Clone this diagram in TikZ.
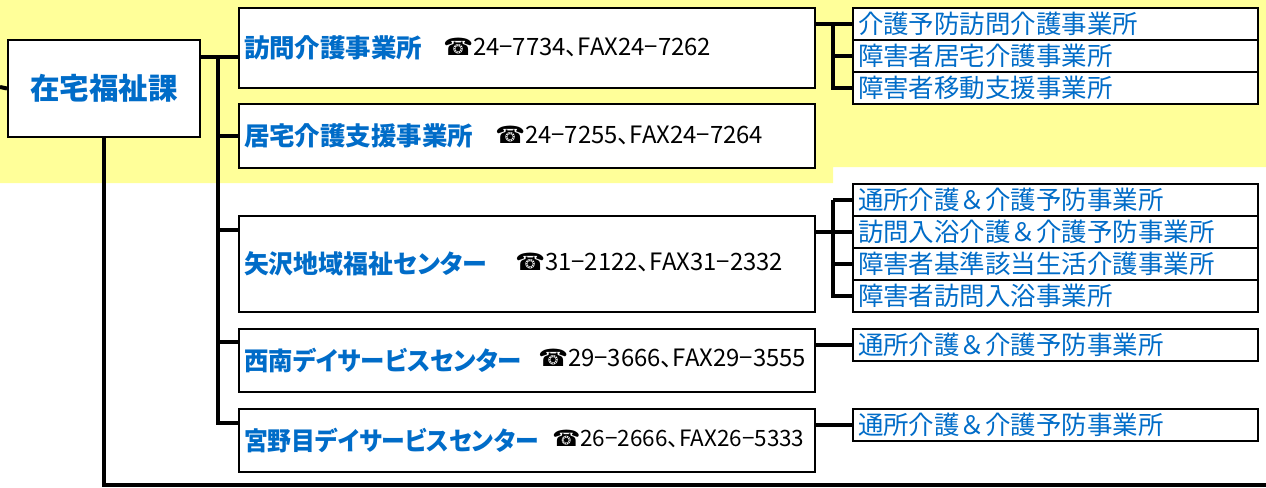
\documentclass[tikz,border=0pt]{standalone}
\usepackage{graphicx}
\usepackage{fontspec}
\setmainfont{Noto Sans CJK JP}
\newfontfamily\namefont{Noto Sans CJK JP}[RawFeature=+palt]
\newfontfamily\telfont{DejaVu Sans}
\newcommand{\narrowtxt}[2]{\scalebox{#1}[1]{#2}}

\definecolor{ttlblue}{RGB}{0,108,200}
\definecolor{bgyellow}{RGB}{255,255,153}

\tikzset{
	hbox/.style={draw=black, line width=0.04cm, fill=white, anchor=north west, inner xsep=0.1cm, inner ysep=0pt, text width=11.32cm, align=left, text=ttlblue, font=\namefont\fontsize{14.5}{17}\selectfont\bfseries},
	sbox/.style={draw=black, line width=0.04cm, fill=white, anchor=north west, inner xsep=0.1cm, inner ysep=0pt, text width=7.9cm, minimum height=0.64cm, align=left, text=ttlblue, font=\fontsize{14.5}{17}\selectfont},
	tel/.style={anchor=west, inner sep=0pt, font=\namefont\fontsize{13.6}{16}\selectfont},
	conn/.style={line width=0.08cm},
}

\begin{document}
\begin{tikzpicture}[x=0.02cm, y=-0.02cm]
	\useasboundingbox (0,0) rectangle (1266,487);
	% 上部的黄色底色
	\fill[bgyellow] (0,0) -- (1266,0) -- (1266,167) -- (833,167) -- (833,183) -- (0,183) -- cycle;
	
	% 左边的课
	\node[draw=black, line width=0.04cm, fill=white, anchor=north west, minimum width=3.84cm, minimum height=1.94cm, text=ttlblue, font=\fontsize{16.8}{20}\selectfont\bfseries] (zaitaku) at (7,39) {在宅福祉課};
	
	% 中间的五个事业所,电话另外标注
	\node[hbox, minimum height=1.6cm] (houmon) at (238,7) {訪問介護事業所};
	\node[hbox, minimum height=1.28cm] (kyotaku) at (238,103) {居宅介護支援事業所};
	\node[hbox, minimum height=1.92cm] (yazawa) at (238,215) {\narrowtxt{0.98}{矢沢地域福祉センター}};
	\node[hbox, minimum height=1.26cm] (seinan) at (238,328) {\narrowtxt{0.96}{西南デイサービスセンター}};
	\node[hbox, minimum height=1.26cm] (miyanome) at (238,408) {\narrowtxt{0.935}{宮野目デイサービスセンター}};
	
	\node[tel] (tel1) at (443,47) {{\telfont ☎}24−7734、FAX24−7262};
	\node[tel] (tel2) at (495,135) {{\telfont ☎}24−7255、FAX24−7264};
	\node[tel] (tel3) at (515,262) {{\telfont ☎}31−2122、FAX31−2332};
	\node[tel] (tel4) at (538,358) {{\telfont ☎}29−3666、FAX29−3555};
	\node[tel, font=\namefont\fontsize{12.8}{15}\selectfont] (tel5) at (552,439) {{\telfont ☎}26−2666、FAX26−5333};
	
	% 右边的小框
	\node[sbox] (sa1) at (852,7) {介護予防訪問介護事業所};
	\node[sbox] (sa2) at (852,39) {障害者居宅介護事業所};
	\node[sbox] (sa3) at (852,71) {障害者移動支援事業所};
	
	\node[sbox] (sb1) at (852,183) {通所介護＆介護予防事業所};
	\node[sbox] (sb2) at (852,215) {訪問入浴介護＆介護予防事業所};
	\node[sbox] (sb3) at (852,247) {障害者基準該当生活介護事業所};
	\node[sbox] (sb4) at (852,279) {障害者訪問入浴事業所};
	
	\node[sbox] (sc1) at (852,328) {通所介護＆介護予防事業所};
	\node[sbox] (sd1) at (852,408) {通所介護＆介護予防事業所};
	
	% 连接线
	\coordinate (stub) at (0,87);
	\coordinate (bus) at (218,57);
	\coordinate (busend) at (218,423);
	\coordinate (bottomend) at (1266,485);
	\draw[conn] (stub) -- (zaitaku.west);
	\draw[conn] (zaitaku.south) |- (bottomend);
	\draw[conn] (zaitaku.east |- bus) -- (houmon.west |- bus);
	\draw[conn] (bus) -- (busend) -- (miyanome.west |- busend);
	\draw[conn] (bus |- kyotaku.west) -- (kyotaku.west);
	\draw[conn] (218,230) -- (yazawa.west |- 0,230);
	\draw[conn] (218,342) -- (seinan.west |- 0,342);
	
	% 右边的分支
	\draw[conn] (houmon.east |- sa1.west) -- ([xshift=-0.38cm]sa1.west) |- (sa3.west);
	\draw[conn] ([xshift=-0.38cm]sa2.west) -- (sa2.west);
	\draw[conn] ([xshift=-0.38cm]sa1.west) -- (sa1.west);
	
	\draw[conn] (yazawa.east |- sb2.west) -- (sb2.west);
	\draw[conn] ([xshift=-0.38cm]sb1.west) -- (sb1.west);
	\draw[conn] ([xshift=-0.38cm]sb1.west) |- (sb4.west);
	\draw[conn] ([xshift=-0.38cm]sb3.west) -- (sb3.west);
	
	\draw[conn] (seinan.east |- sc1.west) -- (sc1.west);
	\draw[conn] (miyanome.east |- sd1.west) -- (sd1.west);
\end{tikzpicture}
\end{document}
